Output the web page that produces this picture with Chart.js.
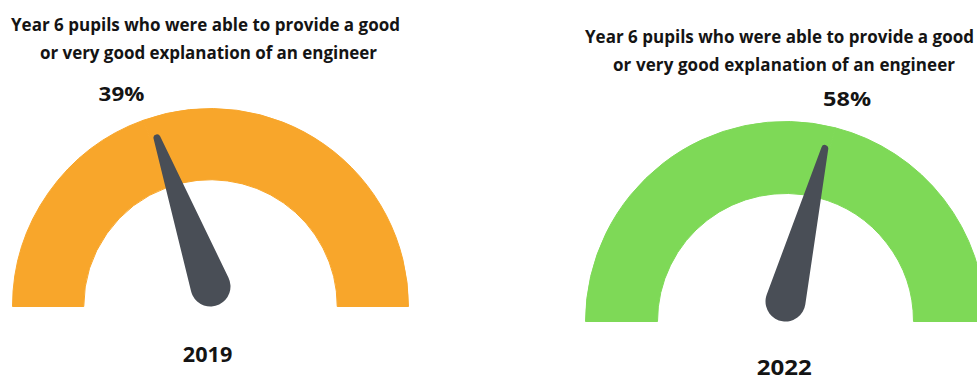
<!DOCTYPE html>
<html>
<head>
<meta charset="utf-8">
<script src="https://cdn.jsdelivr.net/npm/chart.js@4.4.1/dist/chart.umd.min.js"></script>
<style>
  html, body { margin: 0; padding: 0; background: #fff; }
  body { position: relative; width: 977px; height: 377px; overflow: hidden;
         font-family: "Open Sans", Lato, sans-serif; color: #141414; }
  .txt { position: absolute; font-weight: 700; white-space: nowrap; line-height: 1; }
  canvas { position: absolute; }
</style>
</head>
<body>
<script>
// Survey results: share of Year 6 pupils giving a good / very good explanation of an engineer
const years = ['2019', '2022'];
const shares = [39, 58];
const titleLines = ['Year 6 pupils who were able to provide a good', 'or very good explanation of an engineer'];
const gaugeColours = ['#F8A62B', '#7ED957'];
const needleColour = '#494E56';

// Placement of each gauge panel: band centre/radius, and text anchors [centreX, baselineY, width, fontSize]
const panels = [
  { cx: 210, cy: 306, radius: 198,
    title: [[205.5, 30.7, 389, 17], [208.5, 59.3, 337, 17]],
    value: [121.2, 101, 45.7, 20], year: [208, 362.3, 49.4, 20.6] },
  { cx: 785, cy: 321, radius: 200,
    title: [[779.5, 42.7, 389, 17], [784, 71.3, 342, 17]],
    value: [846.7, 105.7, 48, 19.6], year: [784.2, 375.3, 55, 22] }
];

// Tapered needle: wide rounded base at the pivot, narrow rounded tip
const needlePlugin = {
  id: 'needle',
  afterDatasetsDraw(chart, args, opts) {
    const arc = chart.getDatasetMeta(0).data[0];
    const { x, y } = arc.getProps(['x', 'y'], true);
    const a = arc.endAngle;              // angle reached by the value segment
    const r0 = opts.baseRadius, r1 = opts.tipRadius, len = opts.length;
    const px = x, py = y - r0;           // base circle rests on the gauge baseline
    const tx = px + Math.cos(a) * len, ty = py + Math.sin(a) * len;
    const beta = Math.acos((r0 - r1) / len);
    const ctx = chart.ctx;
    ctx.save();
    ctx.fillStyle = opts.colour;
    ctx.beginPath();
    ctx.arc(px, py, r0, a + beta, a - beta + Math.PI * 2, false);
    ctx.lineTo(tx + Math.cos(a - beta) * r1, ty + Math.sin(a - beta) * r1);
    ctx.arc(tx, ty, r1, a - beta, a + beta, false);
    ctx.closePath();
    ctx.fill();
    ctx.restore();
  }
};

// Bold text centred on an anchor and sitting on a baseline; long lines are
// widened with letter spacing, short labels with a horizontal stretch
function addText(text, anchor, stretch) {
  const [cx, baseline, width, size] = anchor;
  const d = document.createElement('div');
  d.className = 'txt';
  d.style.fontSize = size + 'px';
  d.textContent = text;
  const mark = document.createElement('span');
  mark.style.cssText = 'display:inline-block;width:0;height:0;';
  d.appendChild(mark);
  document.body.appendChild(d);
  const natural = d.getBoundingClientRect().width;
  if (stretch) {
    d.style.transformOrigin = '50% 50%';
    d.style.transform = 'scaleX(' + (width / natural) + ')';
    d.style.left = (cx - natural / 2) + 'px';
  } else {
    const n = text.length;
    const ls = (width - natural) / Math.max(n - 1, 1);
    d.style.letterSpacing = ls + 'px';
    d.style.left = (cx - (natural + ls * (n - 1)) / 2) + 'px';
  }
  d.style.top = (baseline - mark.offsetTop) + 'px';
}

years.forEach((year, i) => {
  const p = panels[i];
  // canvas is one pixel wider/taller than the band so the 1px seam stroke keeps the full radius
  const w = p.radius * 2 + 1, h = p.radius + 1;
  const canvas = document.createElement('canvas');
  canvas.width = w;
  canvas.height = h;
  canvas.style.left = (p.cx - w / 2) + 'px';
  canvas.style.top = (p.cy - p.radius - 0.5) + 'px';
  canvas.style.width = w + 'px';
  canvas.style.height = h + 'px';
  document.body.appendChild(canvas);

  new Chart(canvas, {
    type: 'doughnut',
    data: {
      labels: ['Good or very good', 'Other'],
      datasets: [{
        data: [shares[i], 100 - shares[i]],
        backgroundColor: [gaugeColours[i], gaugeColours[i]],
        borderColor: [gaugeColours[i], gaugeColours[i]],
        borderWidth: 1
      }]
    },
    options: {
      responsive: false,
      animation: false,
      events: [],
      rotation: -90,
      circumference: 180,
      cutout: '64%',
      layout: { padding: 0 },
      plugins: {
        legend: { display: false },
        tooltip: { enabled: false },
        needle: { baseRadius: 20, tipRadius: 3.5, length: 158, colour: needleColour }
      }
    },
    plugins: [needlePlugin]
  });

  addText(titleLines[0], p.title[0], false);
  addText(titleLines[1], p.title[1], false);
  addText(shares[i] + '%', p.value, true);
  addText(year, p.year, true);
});
</script>
</body>
</html>
